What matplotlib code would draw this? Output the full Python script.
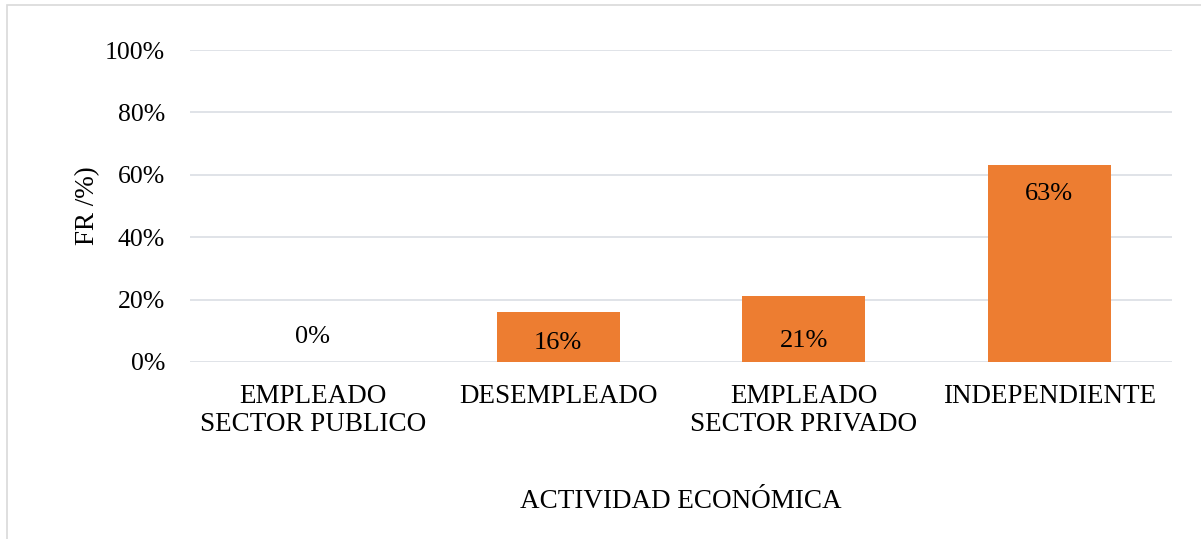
import matplotlib.pyplot as plt
from matplotlib.patches import Rectangle

categories = ["EMPLEADO\nSECTOR PUBLICO", "DESEMPLEADO", "EMPLEADO\nSECTOR PRIVADO", "INDEPENDIENTE"]
values = [0.0, 0.16, 0.21, 0.63]
value_labels = ["0%", "16%", "21%", "63%"]
y_ticks = [0.0, 0.2, 0.4, 0.6, 0.8, 1.0]
y_tick_labels = ["0%", "20%", "40%", "60%", "80%", "100%"]

# label offsets from bar top, in points (as placed in the original)
label_offsets = [18, -22.3, -31.7, -20.9]

plt.rcParams['font.family'] = ['Liberation Serif', 'DejaVu Serif']
plt.rcParams['font.size'] = 18.5

bar_color = "#ED7D31"
grid_color = "#DDE1E6"

fig = plt.figure(figsize=(12.01, 5.39), dpi=100)
ax = fig.add_axes([0.1582, 0.3284, 0.8177, 0.5788])

# chart border (only left and top edge visible in the crop)
fig.patches.append(Rectangle((0.0062, -0.05), 1.2, 1.0407, transform=fig.transFigure,
                             fill=False, edgecolor="#D9D9D9", linewidth=1.2))

x = list(range(len(categories)))
ax.bar(x, values, width=0.5, color=bar_color, zorder=3)

for i, (v, lab) in enumerate(zip(values, value_labels)):
    ax.annotate(lab, xy=(i, v), xytext=(0, label_offsets[i]), textcoords="offset points",
                ha="center", va="center", zorder=4, fontsize=19)

ax.set_xlim(-0.5, 3.5)
ax.set_ylim(0, 1.0)
ax.set_yticks(y_ticks)
ax.set_yticklabels(y_tick_labels)
ax.set_xticks(x)
ax.set_xticklabels(categories, linespacing=1.17, fontsize=19.5)
ax.tick_params(axis="y", length=0, pad=18)
ax.tick_params(axis="x", length=0, pad=16)
ax.yaxis.grid(True, color=grid_color, linewidth=1.3, zorder=0)
ax.set_axisbelow(True)
for s in ax.spines.values():
    s.set_visible(False)

ax.set_ylabel("FR /%)", fontsize=19.5)
ax.yaxis.set_label_coords(-0.092, 0.5)
ax.set_xlabel("ACTIVIDAD ECONÓMICA", fontsize=19.5)
ax.xaxis.set_label_coords(0.5, -0.407)

fig.savefig("out.png", dpi=100)
plt.close(fig)
